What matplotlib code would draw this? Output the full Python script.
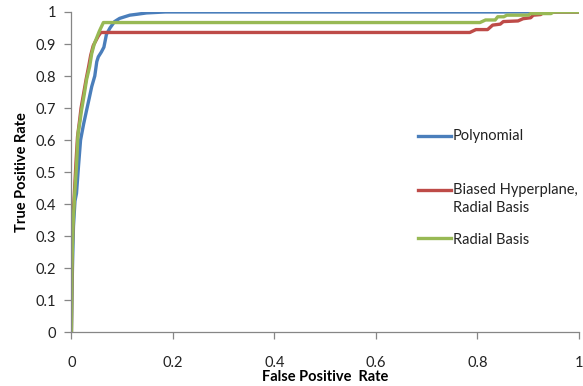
import matplotlib
matplotlib.use("Agg")
import matplotlib.pyplot as plt
from matplotlib.lines import Line2D

plt.rcParams['font.family'] = ['Lato', 'DejaVu Sans']

series_names = ["Polynomial", "Biased Hyperplane,\nRadial Basis", "Radial Basis"]
colors = ["#4A7EBB", "#BE4B48", "#98B954"]

poly_fpr = [0.0, 0.002, 0.004, 0.007, 0.010, 0.014, 0.018, 0.024, 0.030, 0.035, 0.040, 0.046, 0.050,
            0.053, 0.059, 0.064, 0.069, 0.076, 0.085, 0.095, 0.115, 0.130, 0.148, 0.185, 1.0]
poly_tpr = [0.0, 0.20, 0.33, 0.41, 0.434, 0.52, 0.60, 0.65, 0.694, 0.73, 0.767, 0.80, 0.845,
            0.86, 0.875, 0.89, 0.93, 0.95, 0.97, 0.98, 0.99, 0.993, 0.997, 1.0, 1.0]

rbf_fpr = [0.0, 0.001, 0.003, 0.0065, 0.010, 0.013, 0.017, 0.020, 0.025, 0.030, 0.036, 0.040, 0.045,
           0.050, 0.055, 0.063, 0.805, 0.816, 0.835, 0.84, 0.852, 0.858, 0.90, 0.905, 0.945, 0.95, 1.0]
rbf_tpr = [0.0, 0.20, 0.33, 0.434, 0.52, 0.62, 0.66, 0.694, 0.74, 0.79, 0.83, 0.87, 0.90,
           0.92, 0.94, 0.967, 0.967, 0.975, 0.975, 0.985, 0.985, 0.99, 0.99, 0.995, 0.995, 1.0, 1.0]

biased_fpr = [0.0, 0.001, 0.003, 0.006, 0.009, 0.012, 0.016, 0.019, 0.024, 0.029, 0.034, 0.038, 0.043,
              0.048, 0.053, 0.058, 0.785, 0.797, 0.82, 0.83, 0.845, 0.851, 0.88, 0.89, 0.905, 0.91,
              0.925, 0.93, 1.0]
biased_tpr = [0.0, 0.22, 0.35, 0.44, 0.53, 0.61, 0.66, 0.70, 0.745, 0.79, 0.83, 0.865, 0.895,
              0.91, 0.925, 0.936, 0.936, 0.945, 0.945, 0.959, 0.962, 0.97, 0.972, 0.979, 0.982, 0.99,
              0.992, 1.0, 1.0]

curves = [(poly_fpr, poly_tpr), (biased_fpr, biased_tpr), (rbf_fpr, rbf_tpr)]

x_ticks = [0, 0.2, 0.4, 0.6, 0.8, 1]
x_tick_labels = ["0", "0.2", "0.4", "0.6", "0.8", "1"]
y_ticks = [0, 0.1, 0.2, 0.3, 0.4, 0.5, 0.6, 0.7, 0.8, 0.9, 1]
y_tick_labels = ["0", "0.1", "0.2", "0.3", "0.4", "0.5", "0.6", "0.7", "0.8", "0.9", "1"]

fig = plt.figure(figsize=(5.83, 3.86), dpi=100)
ax = fig.add_axes([0.1225, 0.139, 0.8705, 0.830])

for (fx, ty), c in zip(curves, colors):
    ax.plot(fx, ty, color=c, lw=2.4, solid_joinstyle='round', solid_capstyle='round')

ax.set_xlim(0, 1)
ax.set_ylim(0, 1)
ax.set_xticks(x_ticks)
ax.set_xticklabels(x_tick_labels)
ax.set_yticks(y_ticks)
ax.set_yticklabels(y_tick_labels)
for s in ['top', 'right']:
    ax.spines[s].set_visible(False)
for s in ['left', 'bottom']:
    ax.spines[s].set_color('#868686')
    ax.spines[s].set_linewidth(0.9)
ax.tick_params(axis='both', direction='out', length=5, width=0.9, color='#868686',
               labelsize=10.5, labelcolor='#222222')
ax.tick_params(axis='x', pad=12)
ax.tick_params(axis='y', pad=6)
ax.set_xlabel("False Positive  Rate", fontsize=10.5, fontweight='bold', labelpad=0)
ax.set_ylabel("True Positive Rate", fontsize=10.5, fontweight='bold', labelpad=5)

# legend drawn manually
leg_line_y = [136, 190, 238]
leg_text_y = [136, 199, 240]
W, H = 583, 386
for name, c, ly, ty in zip(series_names, colors, leg_line_y, leg_text_y):
    fig.add_artist(Line2D([418 / W, 451 / W], [1 - ly / H, 1 - ly / H], color=c, lw=2.4,
                          transform=fig.transFigure))
    fig.text(453 / W, 1 - ty / H, name, fontsize=10.5, va='center', ha='left',
             color='#222222', linespacing=1.3)

fig.savefig("out.png", dpi=100)
